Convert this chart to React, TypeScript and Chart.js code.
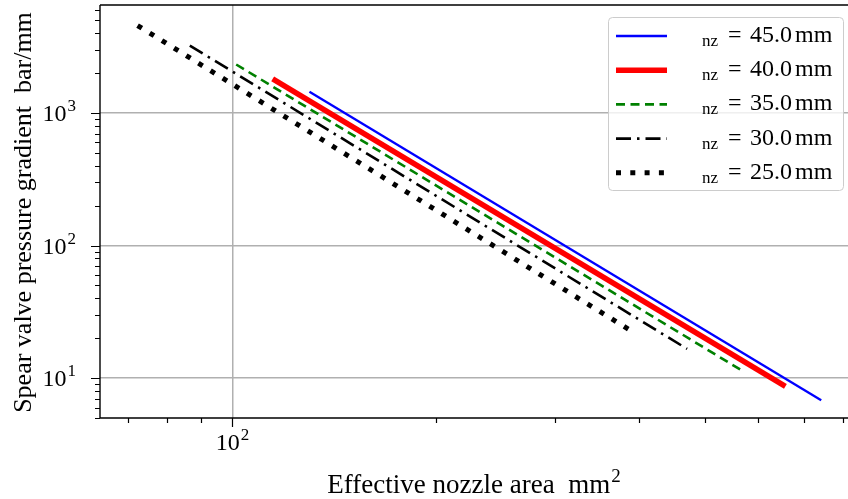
import React, { useEffect, useRef } from 'react';
import { Chart, registerables } from 'chart.js';

Chart.register(...registerables);

// Series: nozzle diameter labels, effective nozzle area (mm^2) and pressure gradient (bar/mm)
const seriesNames = ['45.0', '40.0', '35.0', '30.0', '25.0'];
const area45 = [130, 743];
const grad45 = [1445, 6.8];
const area40 = [114.7, 657.7];
const grad40 = [1812, 8.67];
const area35 = [101.3, 564];
const grad35 = [2323, 11.6];
const area30 = [86.5, 470.6];
const grad30 = [3228, 16.6];
const area25 = [72.4, 390.6];
const grad25 = [4573, 22.4];

// Axis ranges and ticks
const xRange = [63.7, 814];
const yRange = [5.0, 6530];
const xMajorTicks = [100];
const xMajorExps = ['2'];
const xMinorTicks = [70, 80, 90, 200, 300, 400, 500, 600, 700, 800];
const yMajorTicks = [10, 100, 1000];
const yMajorExps = ['1', '2', '3'];
const yMinorTicks = [5, 6, 7, 8, 9, 20, 30, 40, 50, 60, 70, 80, 90, 200, 300, 400, 500, 600, 700, 800, 900, 2000, 3000, 4000, 5000, 6000];

const xTitle = 'Effective nozzle area  mm';
const xTitleExp = '2';
const yTitle = 'Spear valve pressure gradient  bar/mm';

const FONT = '"Liberation Serif", "Times New Roman", serif';

const styles = [
  { color: '#0000ff', width: 2.3, dash: [] as number[] },
  { color: '#ff0000', width: 5.5, dash: [] as number[] },
  { color: '#008000', width: 2.6, dash: [9, 5.5] },
  { color: '#000000', width: 2.6, dash: [15, 6, 2.5, 6] },
  { color: '#000000', width: 5, dash: [5, 9.3] },
];

function pairs(xs: number[], ys: number[]) {
  return xs.map((x, i) => ({ x, y: ys[i] }));
}

function drawSup(ctx: CanvasRenderingContext2D, base: string, sup: string, x: number, y: number, align: 'left' | 'right' | 'center', size: number, supSize: number, supRaise: number) {
  ctx.font = `${size}px ${FONT}`;
  const wb = ctx.measureText(base).width;
  ctx.font = `${supSize}px ${FONT}`;
  const ws = ctx.measureText(sup).width;
  const total = wb + ws + 1;
  let x0 = x;
  if (align === 'right') x0 = x - total;
  else if (align === 'center') x0 = x - total / 2;
  ctx.textAlign = 'left';
  ctx.textBaseline = 'alphabetic';
  ctx.font = `${size}px ${FONT}`;
  ctx.fillText(base, x0, y);
  ctx.font = `${supSize}px ${FONT}`;
  ctx.fillText(sup, x0 + wb + 1, y - supRaise);
}

const decorPlugin = {
  id: 'decor',
  afterDraw(chart: any) {
    const ctx: CanvasRenderingContext2D = chart.ctx;
    const { left, right, top, bottom } = chart.chartArea;
    const xs = chart.scales.x;
    const ys = chart.scales.y;
    ctx.save();
    ctx.strokeStyle = '#000';
    ctx.fillStyle = '#000';
    ctx.lineWidth = 1.4;
    ctx.setLineDash([]);
    ctx.beginPath();
    ctx.moveTo(left, top);
    ctx.lineTo(right + 2, top);
    ctx.moveTo(left, top);
    ctx.lineTo(left, bottom);
    ctx.lineTo(right + 2, bottom);
    ctx.stroke();

    // ticks
    ctx.lineWidth = 1.2;
    ctx.beginPath();
    xMajorTicks.forEach((v) => {
      const p = Math.round(xs.getPixelForValue(v)) + 0.5;
      ctx.moveTo(p, bottom);
      ctx.lineTo(p, bottom + 9);
    });
    xMinorTicks.forEach((v) => {
      const p = Math.round(xs.getPixelForValue(v)) + 0.5;
      ctx.moveTo(p, bottom);
      ctx.lineTo(p, bottom + 5);
    });
    yMajorTicks.forEach((v) => {
      const p = Math.round(ys.getPixelForValue(v)) + 0.5;
      ctx.moveTo(left, p);
      ctx.lineTo(left - 9, p);
    });
    yMinorTicks.forEach((v) => {
      const p = Math.round(ys.getPixelForValue(v)) + 0.5;
      ctx.moveTo(left, p);
      ctx.lineTo(left - 5, p);
    });
    ctx.stroke();

    // tick labels
    xMajorTicks.forEach((v, i) => {
      const p = xs.getPixelForValue(v);
      drawSup(ctx, '10', xMajorExps[i], p, bottom + 32, 'center', 24, 17, 10);
    });
    yMajorTicks.forEach((v, i) => {
      const p = ys.getPixelForValue(v);
      drawSup(ctx, '10', yMajorExps[i], left - 24, p + 8, 'right', 24, 17, 10);
    });

    // axis titles
    drawSup(ctx, xTitle, xTitleExp, (left + right) / 2, 493, 'center', 27, 19, 11);
    ctx.save();
    ctx.translate(31, (top + bottom) / 2 + 1);
    ctx.rotate(-Math.PI / 2);
    ctx.font = `26px ${FONT}`;
    ctx.textAlign = 'center';
    ctx.textBaseline = 'alphabetic';
    ctx.fillText(yTitle, 0, 0);
    ctx.restore();

    // legend
    const bx = 608, by = 17, bw = 235, bh = 173;
    ctx.beginPath();
    (ctx as any).roundRect(bx + 0.5, by + 0.5, bw, bh, 4);
    ctx.fillStyle = 'rgba(255,255,255,0.8)';
    ctx.fill();
    ctx.strokeStyle = '#cccccc';
    ctx.lineWidth = 1;
    ctx.stroke();
    seriesNames.forEach((name, i) => {
      const cy = 36 + i * 34.2;
      const st = styles[i];
      ctx.strokeStyle = st.color;
      ctx.lineWidth = st.width;
      ctx.lineCap = 'butt';
      ctx.setLineDash(st.dash);
      ctx.beginPath();
      ctx.moveTo(616, cy);
      ctx.lineTo(667, cy);
      ctx.stroke();
      ctx.setLineDash([]);
      ctx.fillStyle = '#000';
      ctx.textAlign = 'left';
      ctx.textBaseline = 'alphabetic';
      ctx.font = `17px ${FONT}`;
      ctx.fillText('nz', 702, cy + 10);
      ctx.font = `24px ${FONT}`;
      ctx.fillText('=', 728, cy + 6);
      ctx.fillText(name, 750, cy + 6);
      const w = ctx.measureText(name).width;
      ctx.fillText('mm', 750 + w + 3, cy + 6);
    });
    ctx.restore();
  },
};

export default function App() {
  const ref = useRef<HTMLCanvasElement | null>(null);
  useEffect(() => {
    const canvas = ref.current;
    if (!canvas) return;
    const datasets = [
      pairs(area45, grad45),
      pairs(area40, grad40),
      pairs(area35, grad35),
      pairs(area30, grad30),
      pairs(area25, grad25),
    ].map((d, i) => ({
      label: seriesNames[i],
      data: d,
      borderColor: styles[i].color,
      backgroundColor: styles[i].color,
      borderWidth: styles[i].width,
      borderDash: styles[i].dash,
      borderCapStyle: 'butt' as const,
      pointRadius: 0,
      tension: 0,
      fill: false,
    }));
    const gridColor = (ctx: any) =>
      ctx.tick && [10, 100, 1000].includes(ctx.tick.value) ? '#b0b0b0' : 'rgba(0,0,0,0)';
    const chart = new Chart(canvas, {
      type: 'line',
      data: { datasets },
      options: {
        animation: false,
        responsive: false,
        devicePixelRatio: 1,
        layout: { padding: { top: 5, left: 0, right: 0, bottom: 0 } },
        plugins: { legend: { display: false }, tooltip: { enabled: false } },
        scales: {
          x: {
            type: 'logarithmic',
            min: xRange[0],
            max: xRange[1],
            ticks: { display: false, autoSkip: false },
            afterBuildTicks: (s: any) => {
              s.ticks = [...xMajorTicks, ...xMinorTicks].sort((a, b) => a - b).map((v) => ({ value: v }));
            },
            afterFit: (s: any) => {
              s.height = 81;
            },
            grid: { color: gridColor, lineWidth: 1.5, drawTicks: false },
            border: { display: false },
          },
          y: {
            type: 'logarithmic',
            min: yRange[0],
            max: yRange[1],
            ticks: { display: false, autoSkip: false },
            afterBuildTicks: (s: any) => {
              s.ticks = [...yMajorTicks, ...yMinorTicks].sort((a, b) => a - b).map((v) => ({ value: v }));
            },
            afterFit: (s: any) => {
              s.width = 100;
            },
            grid: { color: gridColor, lineWidth: 1.5, drawTicks: false },
            border: { display: false },
          },
        },
      },
      plugins: [decorPlugin],
    });
    return () => chart.destroy();
  }, []);
  return (
    <div style={{ position: 'fixed', left: 0, top: 0, width: 848, height: 499, background: '#fff' }}>
      <canvas ref={ref} width={848} height={499} style={{ width: 848, height: 499, display: 'block' }} />
    </div>
  );
}
